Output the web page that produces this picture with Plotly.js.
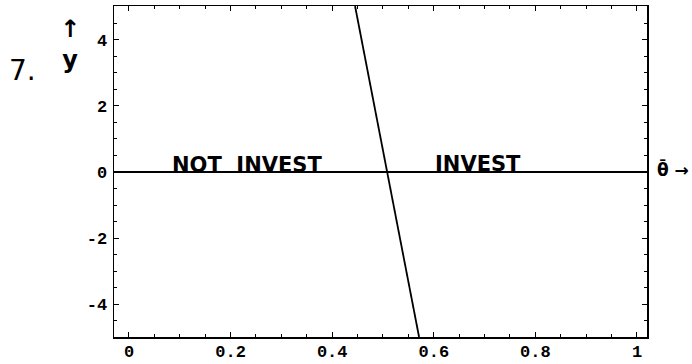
<!DOCTYPE html>
<html>
<head>
<meta charset="utf-8">
<script src="https://cdn.plot.ly/plotly-3.0.1.min.js"></script>
<style>html,body{margin:0;padding:0;background:#fff;}#chart{width:692px;height:364px;}</style>
</head>
<body>
<div id="chart"></div>
<script>
// Boundary line (theta-bar vs y-hat)
var thetaVals = [0.445, 0.571];
var yhatVals = [5.03, -5.0];

var xTickVals = [0, 0.2, 0.4, 0.6, 0.8, 1];
var xTickText = ["0", "0.2", "0.4", "0.6", "0.8", "1"];
var yTickVals = [-4, -2, 0, 2, 4];
var yTickText = ["-4", "-2", "0", "2", "4"];

var labelTexts = ["NOT  INVEST", "INVEST"];
var labelX = [0.232, 0.687];
var labelY = [0.2, 0.25];

var tickFont = {family: "Liberation Mono", size: 17, color: "#000", weight: "bold"};
var handFont = {family: "DejaVu Sans", size: 21, color: "#000", weight: "bold"};

var trace = {
  x: thetaVals, y: yhatVals, mode: "lines", type: "scatter",
  line: {color: "#000", width: 1.8}, hoverinfo: "skip", showlegend: false
};

var axisCommon = {
  showline: true, linecolor: "#000", linewidth: 1.5, mirror: "allticks",
  ticks: "inside", ticklen: 5, tickwidth: 1, tickcolor: "#000",
  showgrid: false, tickfont: tickFont, tickmode: "array"
};

var annotations = [];
for (var i = 0; i < labelTexts.length; i++) {
  annotations.push({x: labelX[i], y: labelY[i], xref: "x", yref: "y", text: labelTexts[i],
    showarrow: false, font: handFont});
}
annotations.push({text: "7.", showarrow: false,
  font: {family: "DejaVu Sans", size: 28, color: "#000"}});
annotations.push({text: "↑<br>y", showarrow: false, font: {family: "DejaVu Sans", size: 24, color: "#000", weight: "bold"}});
annotations.push({text: "θ̄ →", showarrow: false, font: {family: "DejaVu Sans", size: 17, color: "#000", weight: "bold"}});

// place handwritten side labels in paper coords
var W = 692, H = 364, mL = 114, mR = 45, mT = 6, mB = 27;
var pw = W - mL - mR, ph = H - mT - mB;
function px(xp) { return (xp - mL) / pw; }
function py(yp) { return (H - mB - yp) / ph; }
annotations[2].xref = "paper"; annotations[2].yref = "paper"; annotations[2].x = px(22); annotations[2].y = py(70);
annotations[3].xref = "paper"; annotations[3].yref = "paper"; annotations[3].x = px(70); annotations[3].y = py(44);
annotations[4].xref = "paper"; annotations[4].yref = "paper"; annotations[4].x = px(673); annotations[4].y = py(169);
annotations.forEach(function(a){ if (a.xref === "paper") { a.xanchor = "center"; a.yanchor = "middle"; } });

var layout = {
  width: W, height: H,
  margin: {l: mL, r: mR, t: mT, b: mB, pad: 0},
  paper_bgcolor: "#fff", plot_bgcolor: "#fff",
  xaxis: Object.assign({}, axisCommon, {
    range: [-0.0295, 1.0197], tickvals: xTickVals, ticktext: xTickText, zeroline: false,
    ticklabelstandoff: -2,
    minor: {dtick: 0.05, tick0: 0, ticks: "inside", ticklen: 3, tickcolor: "#000", showgrid: false}
  }),
  yaxis: Object.assign({}, axisCommon, {
    range: [-5.0, 5.03], tickvals: yTickVals, ticktext: yTickText,
    ticklabelstandoff: 2,
    zeroline: true, zerolinecolor: "#000", zerolinewidth: 1.2,
    minor: {dtick: 0.5, tick0: 0, ticks: "inside", ticklen: 3, tickcolor: "#000", showgrid: false}
  }),
  annotations: annotations
};

Plotly.newPlot("chart", [trace], layout, {displayModeBar: false, staticPlot: true});
</script>
</body>
</html>
